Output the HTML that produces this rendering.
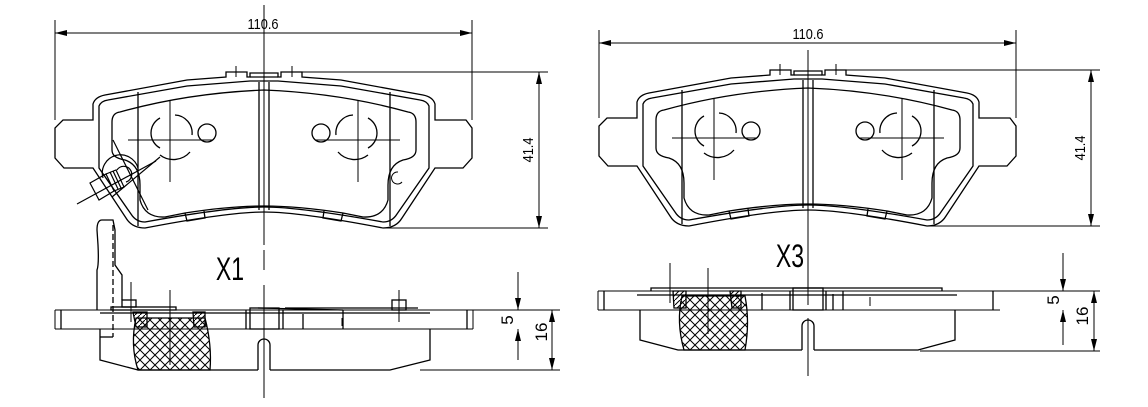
<!DOCTYPE html>
<html><head><meta charset="utf-8"><style>
html,body{margin:0;padding:0;background:#fff;width:1148px;height:407px;overflow:hidden}
svg text{font-family:"Liberation Sans",sans-serif;fill:#000}
</style></head><body>
<svg width="1148" height="407" viewBox="0 0 1148 407" xmlns="http://www.w3.org/2000/svg">
<defs>
<pattern id="xh" width="10" height="10" patternUnits="userSpaceOnUse">
<path d="M0,0 L10,10 M10,0 L0,10" stroke="#000" stroke-width="1"/>
</pattern>
<pattern id="dh" width="5" height="5" patternUnits="userSpaceOnUse">
<path d="M0,5 L5,0" stroke="#000" stroke-width="1"/>
</pattern>
<marker id="ar" markerWidth="12" markerHeight="6" refX="12" refY="3" orient="auto" markerUnits="userSpaceOnUse">
<path d="M0,0 L12,3 L0,6 Z" fill="#000"/>
</marker>
<g id="pad" fill="none" stroke="#000" stroke-width="1.3">
<path d="M93,120 L93,104 Q95,97 105,95 L187,80 L226,77 L226,72 L247,72 L247,77 L250,77 L250,73 L278,73 L278,77 L281,77 L281,72 L302,72 L302,77 L341,80 L423,95 Q433,97 435,104 L435,120 L466,120 L472,128 L472,158 L463,168 L435,168 L402,218 Q396,228 383,228 Q300,212 264,212 Q228,212 145,228 Q132,228 126,218 L93,168 L64,168 L55,158 L55,128 L63,120 Z"/>
<path d="M99,120 L99,106 Q101,101 108,100 L187,86 L250,81 L278,81 L341,86 L420,100 Q427,101 429,106 L429,168 L397,214 Q392,222 383,222 Q300,207 264,207 Q228,207 145,222 Q136,222 131,214 L99,168 Z"/>
<path d="M120,112 Q112,113 112,122 L112,150 Q112,158 125,160 Q140,165 140,185 L140,200 Q145,218 165,217 L185,213 Q230,206 264,206 Q298,206 343,213 L363,217 Q383,218 388,200 L388,185 Q388,165 403,160 Q416,158 416,150 L416,122 Q416,113 408,112 Q340,93 264,90 Q188,93 120,112 Z"/>
<line x1="138" y1="92" x2="138" y2="226"/>
<line x1="390" y1="92" x2="390" y2="226"/>
<line x1="259" y1="82" x2="259" y2="210"/>
<line x1="269" y1="82" x2="269" y2="210"/>
<line x1="250" y1="77" x2="278" y2="77"/>
<path d="M185,213 L187,221 L205,218 L204,211"/>
<path d="M343,213 L341,221 L323,218 L324,211"/>
<circle cx="207" cy="133" r="9"/>
<path d="M160,118 A17,17 0 0 0 160,148"/>
<path d="M175,115 A18,18 0 0 1 192,135"/>
<path d="M160,155 A22,22 0 0 0 190,152"/>
<line x1="128" y1="140" x2="212" y2="140" stroke-width="1"/>
<line x1="170" y1="100" x2="170" y2="182" stroke-width="1"/>
<circle cx="321" cy="133" r="9"/>
<path d="M368,118 A17,17 0 0 1 368,148"/>
<path d="M353,115 A18,18 0 0 0 336,135"/>
<path d="M368,155 A22,22 0 0 1 338,152"/>
<line x1="316" y1="140" x2="400" y2="140" stroke-width="1"/>
<line x1="358" y1="100" x2="358" y2="182" stroke-width="1"/>
<line x1="236" y1="66" x2="236" y2="77" stroke-width="1"/>
<line x1="292" y1="66" x2="292" y2="77" stroke-width="1"/>
</g>
</defs>

<use href="#pad"/>
<line x1="264" y1="5" x2="264" y2="245" stroke="#000" stroke-width="1"/>
<path d="M398,172 A6,6 0 1 0 402,182" fill="none" stroke="#000" stroke-width="1"/>
<g fill="none" stroke="#000" stroke-width="1.2">
<path d="M103,178 A18,18 0 1 1 138,168"/>
<path d="M117,170 A8,8 0 1 1 126,182"/>
<line x1="112" y1="197" x2="160" y2="157"/>
<line x1="77" y1="204" x2="156" y2="161"/>
<path d="M90,183 L106,174 L114,191 L99,200 Z"/>
<path d="M106,174 L116,170 L124,187 L114,191"/>
<line x1="110" y1="172" x2="118" y2="189"/>
<line x1="113" y1="171" x2="121" y2="188"/>
<line x1="113" y1="140" x2="148" y2="210"/>
</g>
<g stroke="#000" stroke-width="1" fill="none">
<line x1="55" y1="20" x2="55" y2="120"/>
<line x1="472" y1="20" x2="472" y2="120"/>
<line x1="75" y1="33" x2="55" y2="33" marker-end="url(#ar)"/>
<line x1="75" y1="33" x2="452" y2="33"/>
<line x1="452" y1="33" x2="472" y2="33" marker-end="url(#ar)"/>
<line x1="302" y1="72" x2="548" y2="72"/>
<line x1="383" y1="228" x2="548" y2="228"/>
<line x1="539" y1="100" x2="539" y2="72" marker-end="url(#ar)"/>
<line x1="539" y1="100" x2="539" y2="200"/>
<line x1="539" y1="200" x2="539" y2="228" marker-end="url(#ar)"/>
</g>
<text x="263" y="29" font-size="15" text-anchor="middle" transform="translate(263,0) scale(0.85,1) translate(-263,0)">110.6</text>
<text transform="translate(533,150) rotate(-90) scale(0.85,1)" font-size="15" text-anchor="middle">41.4</text>
<text transform="translate(230,280) scale(0.72,1)" font-size="32" text-anchor="middle">X1</text>

<g fill="none" stroke="#000" stroke-width="1.3">
<path d="M136,318 Q130,345 138,370 L210,370 Q212,345 205,318 Z" fill="url(#xh)"/>
<path d="M133,312 L147,312 L147,327 L136,327 Z" fill="url(#dh)"/>
<path d="M193,312 L205,312 L205,327 L194,327 Z" fill="url(#dh)"/>
<line x1="61" y1="310" x2="61" y2="329"/>
<line x1="467" y1="310" x2="467" y2="329"/>
<line x1="100" y1="313" x2="430" y2="313"/>
<path d="M100,329 L100,360 L138,370 L258,370 M270,370 L390,370 L430,360 L430,329"/>
<path d="M258,370 L258,345 A6,6 0 0 1 270,345 L270,370"/>
<rect x="250" y="308" width="29" height="21"/>
<line x1="246" y1="310" x2="246" y2="329"/>
<line x1="283" y1="310" x2="283" y2="329"/>
<line x1="303" y1="314" x2="303" y2="329"/>
<line x1="343" y1="310" x2="343" y2="329"/>
<line x1="343" y1="310" x2="258" y2="308"/>
<rect x="111" y="307" width="65" height="3"/>
<rect x="122" y="300" width="14" height="7"/>
<rect x="392" y="300" width="14" height="10"/>
<line x1="285" y1="308" x2="418" y2="308"/>
<path d="M97,310 L97,270 Q99,265 98,245 L97,230 Q97,220 102,220 L113,220 L115,230 L115,265 L122,275 L122,300"/>
<line x1="113" y1="225" x2="113" y2="337" stroke-dasharray="6,3"/>
<line x1="100" y1="337" x2="113" y2="337"/>
<line x1="131" y1="282" x2="131" y2="322" stroke-width="1"/>
<line x1="170" y1="290" x2="170" y2="365" stroke-width="1"/>
<line x1="399" y1="290" x2="399" y2="322" stroke-width="1"/>
<line x1="342" y1="318" x2="342" y2="326" stroke-width="1"/>
</g>
<line x1="264" y1="285" x2="264" y2="398" stroke="#000" stroke-width="1"/>
<line x1="264" y1="250" x2="264" y2="270" stroke="#000" stroke-width="1"/>
<g stroke="#000" stroke-width="1" fill="none">
<line x1="55" y1="310" x2="560" y2="310"/>
<line x1="55" y1="329" x2="473" y2="329"/>
<line x1="55" y1="310" x2="55" y2="329"/>
<line x1="473" y1="310" x2="473" y2="329"/>
<line x1="420" y1="370" x2="560" y2="370"/>
<line x1="518" y1="272" x2="518" y2="310" marker-end="url(#ar)"/>
<line x1="518" y1="360" x2="518" y2="329" marker-end="url(#ar)"/>
<line x1="552" y1="340" x2="552" y2="310" marker-end="url(#ar)"/>
<line x1="552" y1="340" x2="552" y2="370" marker-end="url(#ar)"/>
</g>
<text transform="translate(513,320) rotate(-90)" font-size="17" text-anchor="middle">5</text>
<text transform="translate(547,332) rotate(-90)" font-size="17" text-anchor="middle">16</text>

<use href="#pad" transform="translate(544,-2)"/>
<line x1="808" y1="50" x2="808" y2="240" stroke="#000" stroke-width="1"/>
<g stroke="#000" stroke-width="1" fill="none">
<line x1="599" y1="30" x2="599" y2="118"/>
<line x1="1016" y1="30" x2="1016" y2="118"/>
<line x1="620" y1="43" x2="599" y2="43" marker-end="url(#ar)"/>
<line x1="620" y1="43" x2="996" y2="43"/>
<line x1="996" y1="43" x2="1016" y2="43" marker-end="url(#ar)"/>
<line x1="846" y1="70" x2="1100" y2="70"/>
<line x1="927" y1="226" x2="1100" y2="226"/>
<line x1="1091" y1="100" x2="1091" y2="70" marker-end="url(#ar)"/>
<line x1="1091" y1="100" x2="1091" y2="200"/>
<line x1="1091" y1="200" x2="1091" y2="226" marker-end="url(#ar)"/>
</g>
<text transform="translate(808,39) scale(0.85,1)" font-size="15" text-anchor="middle">110.6</text>
<text transform="translate(1085,148) rotate(-90) scale(0.85,1)" font-size="15" text-anchor="middle">41.4</text>
<text transform="translate(790,267) scale(0.72,1)" font-size="32" text-anchor="middle">X3</text>

<g fill="none" stroke="#000" stroke-width="1.3">
<path d="M682,296 Q676,322 684,350 L745,350 Q750,322 745,296 Z" fill="url(#xh)"/>
<path d="M673,291 L686,291 L686,308 L674,308 Z" fill="url(#dh)"/>
<path d="M730,291 L741,291 L741,308 L732,308 Z" fill="url(#dh)"/>
<line x1="604" y1="291" x2="604" y2="310"/>
<line x1="993" y1="291" x2="993" y2="310"/>
<line x1="637" y1="295" x2="957" y2="295"/>
<path d="M640,310 L640,340 L678,350 L802,350 M814,350 L918,350 L955,340 L955,310"/>
<path d="M802,350 L802,326 A6,6 0 0 1 814,326 L814,350"/>
<rect x="793" y="288" width="30" height="22"/>
<line x1="790" y1="291" x2="790" y2="310"/>
<line x1="826" y1="291" x2="826" y2="310"/>
<line x1="762" y1="293" x2="762" y2="310"/>
<line x1="833" y1="294" x2="833" y2="310"/>
<line x1="843" y1="291" x2="843" y2="310"/>
<path d="M651,291 L651,288 L942,288 L942,291"/>
<line x1="670" y1="263" x2="670" y2="303" stroke-width="1"/>
<line x1="708" y1="268" x2="708" y2="334" stroke-width="1"/>
<line x1="870" y1="297" x2="870" y2="306" stroke-width="1"/>
</g>
<line x1="808" y1="220" x2="808" y2="305" stroke="#000" stroke-width="1"/>
<line x1="808" y1="318" x2="808" y2="376" stroke="#000" stroke-width="1"/>
<g stroke="#000" stroke-width="1" fill="none">
<line x1="598" y1="291" x2="1100" y2="291"/>
<line x1="598" y1="310" x2="1000" y2="310"/>
<line x1="598" y1="291" x2="598" y2="310"/>
<line x1="920" y1="351" x2="1100" y2="351"/>
<line x1="1063" y1="253" x2="1063" y2="291" marker-end="url(#ar)"/>
<line x1="1063" y1="345" x2="1063" y2="310" marker-end="url(#ar)"/>
<line x1="1094" y1="320" x2="1094" y2="291" marker-end="url(#ar)"/>
<line x1="1094" y1="320" x2="1094" y2="351" marker-end="url(#ar)"/>
</g>
<text transform="translate(1059,300) rotate(-90)" font-size="17" text-anchor="middle">5</text>
<text transform="translate(1088,316) rotate(-90)" font-size="17" text-anchor="middle">16</text>
</svg>
</body></html>
